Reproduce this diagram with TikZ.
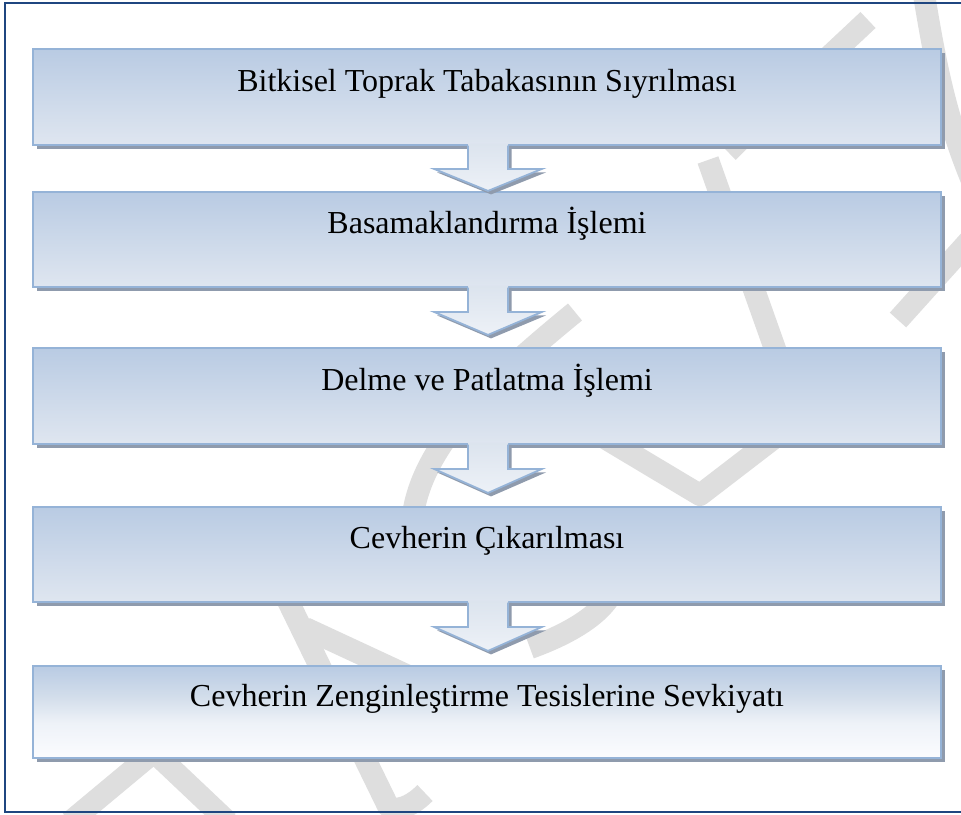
\documentclass[tikz,border=0pt]{standalone}
\usepackage{fontspec}
\setmainfont{Liberation Serif}
\usetikzlibrary{calc,shadows}
\definecolor{framec}{HTML}{1F4680}
\definecolor{boxtop}{HTML}{B9CBE3}
\definecolor{boxbot}{HTML}{DFE6F0}
\definecolor{boxline}{HTML}{95B3D7}
\definecolor{shadowc}{HTML}{8F9BAD}
\definecolor{arrtop}{HTML}{DCE4EE}
\definecolor{arrbot}{HTML}{EDF1F7}
\definecolor{lastmidA}{HTML}{D3DEEB}
\definecolor{lastmidB}{HTML}{EEF2F8}
\definecolor{lastbot}{HTML}{FBFCFE}
\definecolor{wmark}{HTML}{DEDEDE}
\pgfdeclareverticalshading{lastshade}{100bp}{color(0bp)=(lastbot); color(25bp)=(lastbot); color(44bp)=(lastmidB); color(58bp)=(lastmidA); color(75bp)=(boxtop); color(100bp)=(boxtop)}
\tikzset{
  stepbox/.style={draw=boxline, line width=1.8pt, minimum width=908pt, inner sep=0pt,
    top color=boxtop, bottom color=boxbot,
    font=\fontsize{32}{36}\selectfont, text height=22pt, text depth=34pt,
    drop shadow={shadow xshift=3.5pt, shadow yshift=-3.5pt, fill=shadowc, opacity=1}},
  laststep/.style={stepbox, shading=lastshade},
  wmstroke/.style={draw=wmark, line width=22pt, line join=round},
  arrowedge/.style={draw=boxline, line width=1.8pt, line join=miter},
  framebox/.style={draw=framec, line width=1.6pt}
}
\begin{document}
\begin{tikzpicture}[x=1pt, y=-1pt]
\useasboundingbox (0,0) rectangle (961,814);
\fill[white] (0,0) rectangle (961,814);
% watermark
\draw[wmstroke] (868,20) .. controls (815,70) and (760,120) .. (728,152);
\draw[wmstroke] (708,160) -- (802,425);
\draw[wmstroke] (588,428) -- (700,495) -- (795,422);
\draw[wmstroke] (924,-5) .. controls (935,60) and (945,120) .. (978,195);
\draw[wmstroke] (970,240) -- (898,320);
\draw[wmstroke] (575,312) .. controls (480,390) and (405,460) .. (412,545);
\draw[wmstroke] (580,525) .. controls (640,560) and (630,612) .. (530,648);
\draw[wmstroke] (268,560) -- (388,806) .. controls (395,812) and (410,808) .. (425,793);
\draw[wmstroke] (305,628) -- (460,700);
\draw[wmstroke] (70,822) -- (154,752) -- (228,822);
% outer frame
\draw[framebox] (5,3) rectangle (975,812);
% boxes
\node[stepbox, minimum height=96pt] (b1) at (487,97) {Bitkisel Toprak Tabakasının Sıyrılması};
\node[stepbox, minimum height=95pt] (b2) at (487,239.5) {Basamaklandırma İşlemi};
\node[stepbox, minimum height=96pt] (b3) at (487,396) {Delme ve Patlatma İşlemi};
\node[stepbox, minimum height=95pt] (b4) at (487,554.5) {Cevherin Çıkarılması};
\node[laststep, minimum height=92pt] (b5) at (487,712) {Cevherin Zenginleştirme Tesislerine Sevkiyatı};
% block arrows
\foreach \a/\b/\s/\t in {b1/b2/23/45, b2/b3/24/47, b3/b4/24/48, b4/b5/24/48}{
  \begin{scope}[shift={(\a.south)}, xshift=1pt]
    \fill[shadowc] (-17,0) -- (-17,\s+3.5) -- (-51,\s+3.5) -- (3,\t+3.5) -- (58,\s+3.5) -- (23.5,\s+3.5) -- (23.5,0) -- cycle;
    \shade[top color=arrtop, bottom color=arrbot] (-20,-2.2) -- (-20,\s) -- (-54,\s) -- (0,\t) -- (54,\s) -- (20,\s) -- (20,-2.2) -- cycle;
    \draw[arrowedge] (-20,-0.2) -- (-20,\s) -- (-54,\s) -- (0,\t) -- (54,\s) -- (20,\s) -- (20,-0.2);
  \end{scope}
}
\end{tikzpicture}
\end{document}
